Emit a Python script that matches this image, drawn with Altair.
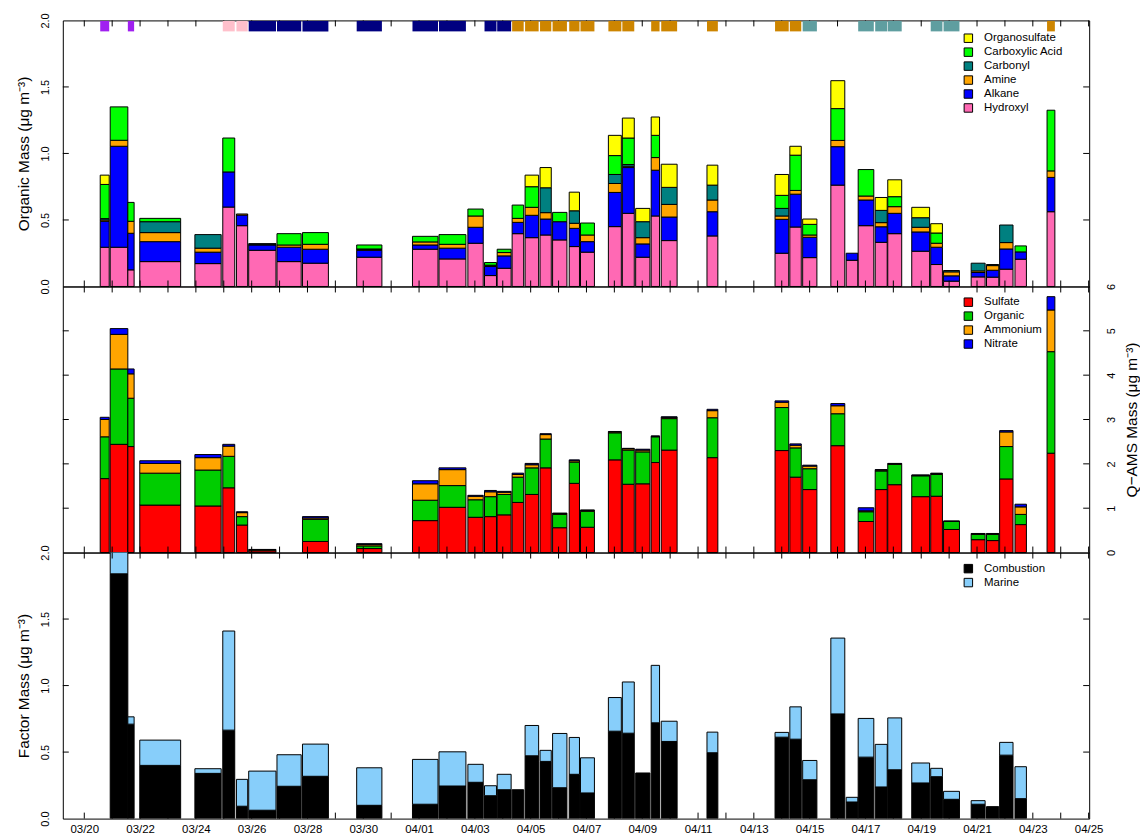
import altair as alt
import pandas as pd

# ---- sample intervals (days after 03/20 00:00) ----
start = [0.571, 0.929, 1.561, 1.989, 3.964, 4.964, 5.454, 5.893, 6.907, 7.821, 9.764, 11.764, 12.714, 13.75,
         14.346, 14.8, 15.336, 15.8, 16.336, 16.786, 17.382, 17.786, 18.786, 19.286, 19.764, 20.32, 20.68, 22.32,
         24.76, 25.29, 25.75, 26.76, 27.31, 27.74, 28.35, 28.8, 29.66, 30.34, 30.8, 31.79, 32.34, 32.81, 33.36, 34.51]
end = [0.893, 1.561, 1.786, 3.454, 4.907, 5.393, 5.857, 6.871, 7.775, 8.75, 10.668, 12.679, 13.679, 14.3,
       14.775, 15.3, 15.75, 16.286, 16.739, 17.3, 17.75, 18.286, 19.25, 19.714, 20.275, 20.62, 21.25, 22.71,
       25.25, 25.70, 26.26, 27.26, 27.73, 28.3, 28.78, 29.3, 30.3, 30.76, 31.37, 32.29, 32.78, 33.29, 33.77, 34.79]

# ---- organic functional groups (ug m-3) ----
hydroxyl = [.295, .295, .125, .187, .172, .597, .457, .272, .187, .175, .22, .28, .207, .325, .082, .137, .397, .367,
            .387, .35, .30, .258, .45, .55, .22, .53, .345, .38, .25, .447, .217, .762, .197, .457, .332, .397, .265,
            .165, .04, .072, .07, .13, .205, .562]
alkane = [.195, .759, .275, .15, .086, .264, .08, .04, .108, .105, .052, .032, .081, .12, .068, .093, .085, .168, .12,
          .137, .137, .079, .257, .344, .10, .344, .177, .182, .255, .247, .153, .289, .053, .193, .117, .153, .145,
          .13, .04, .033, .052, .152, .055, .258]
amine = [.01, .045, .09, .068, .03, 0, .008, .005, .017, .037, .005, .023, .029, .085, .005, .025, .03, .06, .048, 0,
         .038, .05, .067, .01, .047, .095, .095, .088, .025, .028, .017, .047, 0, .03, .031, .05, .035, .03, .03,
         .012, .035, .048, 0, .049]
carbonyl = [.01, 0, 0, .082, .102, 0, 0, .005, 0, 0, .005, 0, 0, 0, .005, 0, 0, 0, .187, 0, .094, 0, .068, .013, .12,
            0, .128, .112, .057, 0, 0, 0, 0, 0, .092, 0, .072, 0, .01, .058, .008, .132, 0, 0]
carboxylic = [.257, .251, .142, .025, 0, .255, 0, 0, .085, .088, .03, .042, .073, .052, .02, .025, .10, .155, 0, .07,
              0, .09, .142, .199, 0, .167, 0, 0, .098, .265, .08, .239, 0, .199, 0, .075, 0, .077, 0, 0, 0, 0, .045,
              .456]
organosulfate = [.07, 0, 0, 0, 0, 0, 0, 0, 0, 0, 0, 0, 0, 0, 0, 0, 0, .087, .152, 0, .14, 0, .152, .15, .10, .138,
                 .174, .15, .157, .067, .04, .21, 0, 0, .097, .127, .078, .07, 0, 0, 0, 0, 0, 0]

# ---- Q-AMS components (ug m-3) ----
sulfate = [1.667, 2.44, 2.39, 1.07, 1.05, 1.46, .62, .04, 0, .25, .09, .72, 1.02, .795, .81, .85, 1.13, 1.31, 1.91,
           .56, 1.56, .57, 2.09, 1.54, 1.55, 2.03, 2.31, 2.14, 2.30, 1.70, 1.42, 2.41, 0, .70, 1.42, 1.53, 1.26, 1.27,
           .52, .29, .27, 1.66, .63, 2.24]
organic = [.943, 1.70, 1.09, .72, .81, .71, .19, 0, 0, .50, .06, .46, .49, .395, .45, .46, .57, .60, .65, .30, .48,
           .36, .61, .77, .72, .58, .71, .90, .97, .66, .47, .72, 0, .22, .42, .46, .47, .49, .18, .12, .14, .73, .23,
           2.29]
ammonium = [.39, .78, .55, .22, .28, .23, .09, .02, 0, .03, .03, .37, .36, .08, .11, .05, .06, .07, .10, .02, .03, .02,
            .02, .03, .04, .01, .03, .16, .12, .06, .06, .18, 0, .02, .02, .01, .01, .02, .005, .01, .01, .33, .17, .94]
nitrate = [.05, .13, .11, .06, .07, .04, .02, .01, 0, .03, .02, .07, .04, .02, .03, .02, .03, .03, .02, .01, .02, .01,
           .01, .01, .02, .01, .01, .03, .03, .03, .02, .05, 0, .07, .01, .01, .01, .01, .005, .01, .01, .03, .06, .30]

# ---- factors (ug m-3) ----
combustion = [0, 1.84, .71, .40, .34, .665, .093, .063, .243, .318, .10, .108, .245, .273, .172, .217, .217, .472, .43,
              .232, .333, .193, .657, .642, .343, .72, .58, .495, .612, .597, .292, .787, .125, .462, .238, .367,
              .268, .315, .145, .108, .09, .477, .15, 0]
marine = [0, .30, .055, .19, .035, .745, .202, .294, .237, .242, .282, .337, .257, .135, .075, .116, 0, .228, .083,
          .408, .277, .264, .253, .385, 0, .432, .152, .155, .036, .243, .145, .57, .035, .291, .32, .39, .15, .063,
          .06, .027, 0, .096, .24, 0]

# ---- sample class shown along the top ----
category = ["P", "", "P", "", "", "K", "K", "N", "N", "N", "N", "N", "N", "", "N", "N", "O", "O", "O", "O", "O", "O",
            "O", "O", "", "O", "O", "O", "O", "O", "C", "", "", "C", "C", "C", "", "C", "C", "", "", "", "", "O"]
cat_names = ["P", "K", "N", "O", "C"]
cat_colors = ["#A020F0", "#FFC0CB", "#000080", "#CD8500", "#5F9EA0"]

date_labels = ["03/20", "03/22", "03/24", "03/26", "03/28", "03/30", "04/01", "04/03", "04/05", "04/07",
               "04/09", "04/11", "04/13", "04/15", "04/17", "04/19", "04/21", "04/23", "04/25"]
label_days = list(range(0, 37, 2))
day_ticks = list(range(0, 37))

W, H = 1030, 267
FONT = "Liberation Sans"
XDOM = [-0.77, 36.02]
xscale = alt.Scale(domain=XDOM, nice=False, zero=False)
n = len(start)


def long_df(series, order):
    rows = []
    for i in range(n):
        for rank, name in enumerate(order):
            rows.append(dict(bar=i, start=start[i], end=end[i], group=name, rank=rank, value=series[name][i]))
    return pd.DataFrame(rows)


def legend(lx, ly):
    return alt.Legend(title=None, orient="none", legendX=lx, legendY=ly, symbolType="square", symbolSize=72,
                      symbolStrokeColor="black", symbolStrokeWidth=1, labelFontSize=11.5, labelOffset=10,
                      rowPadding=1.0, padding=0, labelLimit=300, symbolOpacity=1)


def ticks(yscale, left_vals, right_vals):
    tdf = pd.DataFrame({"day": day_ticks})
    xt = alt.X("day:Q", scale=xscale, axis=None)
    rule = dict(color="black", strokeWidth=1)
    top = alt.Chart(tdf).mark_rule(**rule).encode(x=xt, y=alt.value(0), y2=alt.value(6))
    bot = alt.Chart(tdf).mark_rule(**rule).encode(x=xt, y=alt.value(H - 6), y2=alt.value(H))
    left = alt.Chart(pd.DataFrame({"v": left_vals})).mark_rule(**rule).encode(
        y=alt.Y("v:Q", scale=yscale, axis=None), x=alt.value(0), x2=alt.value(6))
    right = alt.Chart(pd.DataFrame({"v": right_vals})).mark_rule(**rule).encode(
        y=alt.Y("v:Q", scale=yscale, axis=None), x=alt.value(W - 6), x2=alt.value(W))
    return [top, bot, left, right]


def left_axis(title, vals):
    return alt.Axis(orient="left", values=vals, format=".1f", labelAngle=270, labelAlign="center",
                    labelBaseline="alphabetic", labelPadding=14, ticks=False, tickSize=0, domain=False,
                    grid=False, labelFontSize=11, title=title, titleFontSize=15.5, titleFontWeight="normal",
                    titleAngle=270, titleAlign="center", titleBaseline="middle", titleX=-39, titleY=H / 2)


def stacked(df, yscale, axis, color_dom, color_rng, leg, xaxis=None, clip=False):
    return alt.Chart(df).transform_filter("datum.value > 0").transform_stack(
        stack="value", groupby=["bar"], as_=["y0", "y1"], sort=[alt.SortField("rank", order="ascending")]
    ).mark_rect(stroke="black", strokeWidth=1, clip=clip).encode(
        x=alt.X("start:Q", scale=xscale, axis=xaxis),
        x2="end:Q",
        y=alt.Y("y0:Q", scale=yscale, axis=axis),
        y2="y1:Q",
        color=alt.Color("group:N", scale=alt.Scale(domain=color_dom, range=color_rng), legend=leg),
    )


LX = 903

# ---------- top panel ----------
top_order = ["Hydroxyl", "Alkane", "Amine", "Carbonyl", "Carboxylic Acid", "Organosulfate"]
top_series = {"Hydroxyl": hydroxyl, "Alkane": alkane, "Amine": amine, "Carbonyl": carbonyl,
              "Carboxylic Acid": carboxylic, "Organosulfate": organosulfate}
top_cols = {"Hydroxyl": "#FF69B4", "Alkane": "#0000FF", "Amine": "#FFA500", "Carbonyl": "#008080",
            "Carboxylic Acid": "#00FF00", "Organosulfate": "#FFFF00"}
top_dom = list(reversed(top_order))
y_top = alt.Scale(domain=[0, 2], nice=False, zero=True)
top_bars = stacked(long_df(top_series, top_order), y_top,
                   left_axis("Organic Mass (μg m⁻³)", [0, 0.5, 1, 1.5, 2]),
                   top_dom, [top_cols[g] for g in top_dom], legend(LX, 12.1))
cat_df = pd.DataFrame({"start": start, "end": end, "cat": category})
cat_df = cat_df[cat_df["cat"] != ""]
cats = alt.Chart(cat_df).mark_rect().encode(
    x=alt.X("start:Q", scale=xscale, axis=None), x2="end:Q",
    y=alt.value(0.5), y2=alt.value(11),
    fill=alt.Fill("cat:N", scale=alt.Scale(domain=cat_names, range=cat_colors), legend=None),
)
top_panel = alt.layer(top_bars, *ticks(y_top, [0.5, 1, 1.5], [0.5, 1, 1.5]), cats).resolve_axis(
    x="independent", y="independent").properties(width=W, height=H)

# ---------- middle panel ----------
mid_order = ["Sulfate", "Organic", "Ammonium", "Nitrate"]
mid_series = {"Sulfate": sulfate, "Organic": organic, "Ammonium": ammonium, "Nitrate": nitrate}
mid_cols = ["#FF0000", "#00CD00", "#FFA500", "#0000FF"]
y_mid = alt.Scale(domain=[0, 6], nice=False, zero=True)
mid_axis = alt.Axis(orient="right", values=[0, 1, 2, 3, 4, 5, 6], labelAngle=270, labelAlign="center",
                    labelBaseline="alphabetic", labelPadding=25, ticks=False, tickSize=0, domain=False,
                    grid=False, labelFontSize=11, title="Q−AMS Mass (μg m⁻³)", titleFontSize=15.5,
                    titleFontWeight="normal", titleAngle=270, titleAlign="center", titleBaseline="middle",
                    titleX=42, titleY=H / 2)
mid_bars = stacked(long_df(mid_series, mid_order), y_mid, mid_axis, mid_order, mid_cols, legend(LX, 10))
mid_panel = alt.layer(mid_bars, *ticks(y_mid, [1, 2, 3, 4, 5], [1, 2, 3, 4, 5])).resolve_axis(
    x="independent", y="independent").properties(width=W, height=H)

# ---------- bottom panel ----------
bot_order = ["Combustion", "Marine"]
bot_series = {"Combustion": combustion, "Marine": marine}
y_bot = alt.Scale(domain=[0, 2], nice=False, zero=True)
label_js = "[" + ",".join("'" + s + "'" for s in date_labels) + "]"
x_axis = alt.Axis(values=label_days, labelExpr=label_js + "[round(datum.value/2)]", ticks=False, tickSize=0,
                  domain=False, grid=False, labelPadding=5, labelFontSize=11.5, labelFlush=False,
                  labelOverlap=False, title=None)
bot_bars = stacked(long_df(bot_series, bot_order), y_bot,
                   left_axis("Factor Mass (μg m⁻³)", [0, 0.5, 1, 1.5, 2]),
                   bot_order, ["#000000", "#87CEFA"], legend(LX, 10.4), xaxis=x_axis, clip=True)
bot_panel = alt.layer(bot_bars, *ticks(y_bot, [0.5, 1, 1.5], [0.5, 1, 1.5])).resolve_axis(
    x="independent", y="independent").properties(width=W, height=H)

chart = alt.vconcat(top_panel, mid_panel, bot_panel, spacing=0, bounds="flush").resolve_scale(
    color="independent", fill="independent", y="independent"
).properties(
    padding={"left": 8, "top": 2, "right": 0, "bottom": 0}
).configure_view(
    stroke="black", strokeWidth=1
).configure_axis(
    labelFont=FONT, titleFont=FONT, labelColor="black", titleColor="black"
).configure_legend(
    labelFont=FONT, labelColor="black"
)

chart.save("out.html", embed_options={"renderer": "svg", "actions": False})
